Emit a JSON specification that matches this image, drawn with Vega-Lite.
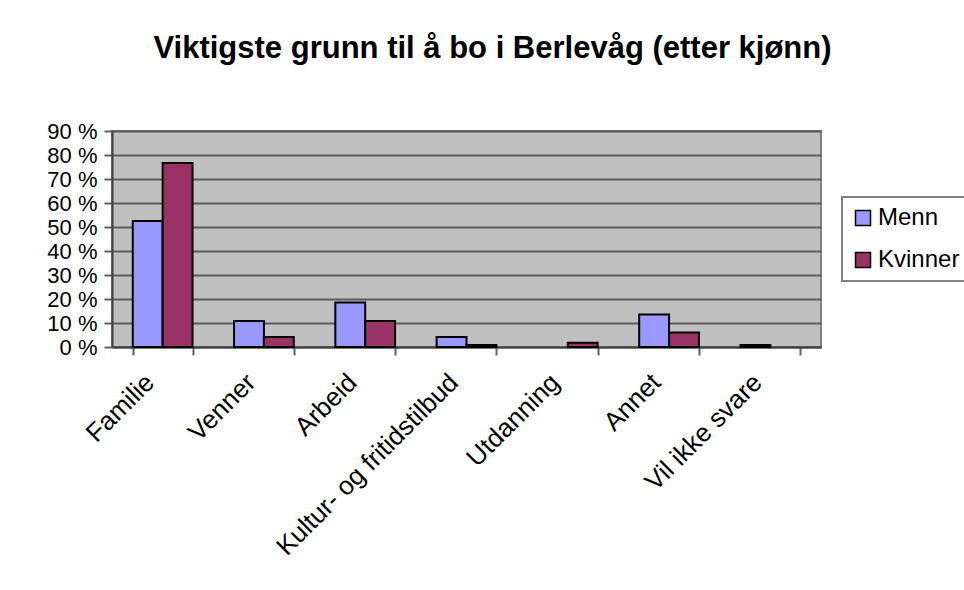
{
  "$schema": "https://vega.github.io/schema/vega-lite/v6.json",
  "autosize": {"type": "none"},
  "width": 709,
  "height": 216,
  "padding": {"left": 112, "top": 131, "right": 143, "bottom": 243},
  "background": "white",
  "title": {
    "text": "Viktigste grunn til å bo i Berlevåg (etter kjønn)",
    "font": "Liberation Sans",
    "fontSize": 31,
    "fontWeight": "bold",
    "color": "black",
    "anchor": "middle",
    "frame": "group",
    "dx": 26,
    "baseline": "alphabetic",
    "offset": 31
  },
  "data": {
    "values": [
      {"grunn": "Familie", "kjonn": "Menn", "andel": 52.5},
      {"grunn": "Familie", "kjonn": "Kvinner", "andel": 76.7},
      {"grunn": "Venner", "kjonn": "Menn", "andel": 10.8},
      {"grunn": "Venner", "kjonn": "Kvinner", "andel": 4.2},
      {"grunn": "Arbeid", "kjonn": "Menn", "andel": 18.5},
      {"grunn": "Arbeid", "kjonn": "Kvinner", "andel": 10.8},
      {"grunn": "Kultur- og fritidstilbud", "kjonn": "Menn", "andel": 4.2},
      {"grunn": "Kultur- og fritidstilbud", "kjonn": "Kvinner", "andel": 0.8},
      {"grunn": "Utdanning", "kjonn": "Kvinner", "andel": 1.8},
      {"grunn": "Annet", "kjonn": "Menn", "andel": 13.5},
      {"grunn": "Annet", "kjonn": "Kvinner", "andel": 6.0},
      {"grunn": "Vil ikke svare", "kjonn": "Menn", "andel": 0.8}
    ]
  },
  "mark": {"type": "bar", "stroke": "black", "strokeWidth": 2},
  "encoding": {
    "x": {
      "field": "grunn",
      "type": "nominal",
      "sort": ["Familie", "Venner", "Arbeid", "Kultur- og fritidstilbud", "Utdanning", "Annet", "Vil ikke svare"],
      "scale": {"paddingInner": 0.41, "paddingOuter": 0.205},
      "axis": {
        "title": null,
        "labelAngle": -45,
        "labelAlign": "right",
        "labelBaseline": "middle",
        "labelFont": "Liberation Sans",
        "labelFontSize": 26,
        "labelColor": "black",
        "labelPadding": 23,
        "labelOffset": -13,
        "labelLimit": 0,
        "labelOverlap": false,
        "tickBand": "extent",
        "tickColor": "#606060",
        "tickWidth": 2,
        "tickSize": 8,
        "domainColor": "#404040",
        "domainWidth": 2,
        "grid": false
      }
    },
    "xOffset": {
      "field": "kjonn",
      "type": "nominal",
      "sort": ["Menn", "Kvinner"],
      "scale": {"domain": ["Menn", "Kvinner"], "paddingInner": 0, "paddingOuter": 0}
    },
    "y": {
      "field": "andel",
      "type": "quantitative",
      "scale": {"domain": [0, 90], "nice": false},
      "axis": {
        "title": null,
        "values": [0, 10, 20, 30, 40, 50, 60, 70, 80, 90],
        "labelExpr": "datum.value + ' %'",
        "labelFont": "Liberation Sans",
        "labelFontSize": 22,
        "labelColor": "black",
        "labelPadding": 7,
        "labelOverlap": false,
        "tickColor": "#606060",
        "tickWidth": 2,
        "tickSize": 8,
        "domainColor": "#404040",
        "domainWidth": 2,
        "grid": true,
        "gridColor": "#5a5a5a",
        "gridWidth": 2
      }
    },
    "color": {
      "field": "kjonn",
      "type": "nominal",
      "scale": {"domain": ["Menn", "Kvinner"], "range": ["#9999FF", "#993366"]},
      "legend": {
        "title": null,
        "orient": "none",
        "legendX": 730,
        "legendY": 66,
        "symbolType": "square",
        "symbolSize": 225,
        "symbolStrokeColor": "black",
        "symbolStrokeWidth": 1.5,
        "symbolOpacity": 1,
        "labelFont": "Liberation Sans",
        "labelFontSize": 24,
        "labelColor": "black",
        "labelOffset": 3,
        "rowPadding": 18,
        "padding": 9,
        "strokeColor": "#808080",
        "fillColor": "white",
        "encode": {"legend": {"update": {"strokeWidth": {"value": 2}}}}
      }
    }
  },
  "config": {
    "view": {"fill": "#C0C0C0", "stroke": "#808080", "strokeWidth": 2}
  }
}
